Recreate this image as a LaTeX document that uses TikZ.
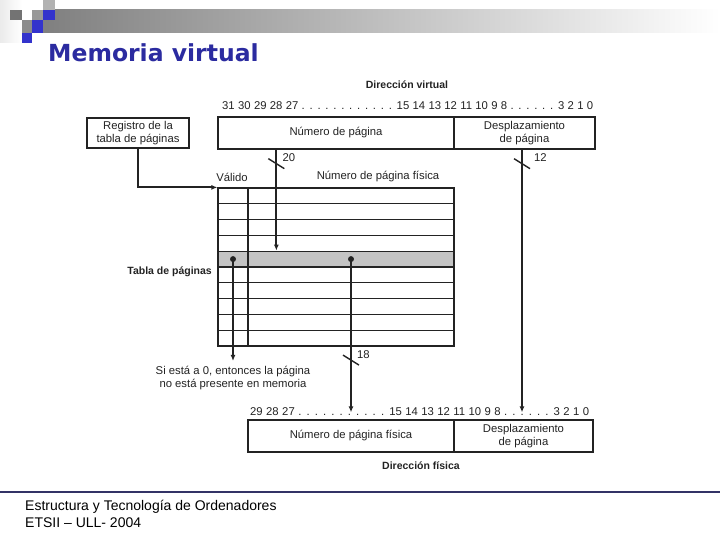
\documentclass[tikz,border=0pt]{standalone}
\usepackage{fontspec}
\setmainfont{Liberation Sans}
\newfontfamily\titlefont{DejaVu Sans}
\usetikzlibrary{arrows.meta,calc}
\definecolor{titleblue}{RGB}{43,43,160}
\definecolor{sqblue}{RGB}{51,51,204}
\definecolor{linecol}{RGB}{51,51,102}
\definecolor{shadegray}{RGB}{195,195,195}
\definecolor{ink}{RGB}{35,35,35}
\begin{document}
\begin{tikzpicture}[x=1pt,y=-1pt,
  lbl/.style={font=\fontsize{11.3}{13}\selectfont, text=ink, inner sep=0pt, align=center},
  blbl/.style={font=\fontsize{10.5}{12}\selectfont\bfseries, text=ink, inner sep=0pt},
  box/.style={draw=ink, line width=1.3pt, inner sep=0pt, align=center, font=\fontsize{11.3}{13}\selectfont, text=ink},
  cell/.style={draw=ink, line width=1.2pt, inner sep=0pt, minimum height=15.8pt},
  conn/.style={draw=ink, line width=2pt},
  tip/.style={-{Latex[length=6pt,width=5pt]}},
  tick/.style={draw=ink, line width=1.4pt},
  dot/.style={circle, fill=ink, inner sep=0pt, minimum size=6pt}
]
\useasboundingbox (0,0) rectangle (720,540);
\fill[white] (0,0) rectangle (720,540);

% header decoration
\shade[left color=black!8, right color=white] (0,0) rectangle (22,43);
\shade[left color=black!50, right color=white] (43,10) rectangle (720,33);
\fill[black!30] (43,0) rectangle (55,10);
\fill[black!55] (10,10) rectangle (22,20);
\fill[black!40] (32,10) rectangle (43,20);
\fill[sqblue] (43,10) rectangle (55,20);
\fill[black!45] (22,20) rectangle (32,33);
\fill[sqblue] (32,20) rectangle (43,33);
\fill[sqblue] (22,33) rectangle (32,43);

\node[anchor=base west, inner sep=0pt, text=titleblue, font=\titlefont\bfseries\fontsize{23.5}{26}\selectfont] (title) at (48,62) {Memoria virtual};

% virtual address
\node[blbl] (dv) at (407,85) {Dirección virtual};
\node[lbl, anchor=west] (bitsv) at (222,106) {\makebox[371pt][s]{31 30 29 28 27 . . . . . . . . . . . . 15 14 13 12 11 10 9 8 . . . . . . 3 2 1 0}};
\node[box, minimum width=236pt, minimum height=32pt] (vpn) at (336,133) {Número de página};
\node[box, minimum width=141pt, minimum height=32pt] (voff) at (524.5,133) {Desplazamiento\\de página};

\node[box, minimum width=102pt, minimum height=30pt] (reg) at (138,133) {Registro de la\\tabla de páginas};

% page table
\fill[shadegray] (218,251.2) rectangle (454,267);
\foreach \i in {1,...,10} {
  \pgfmathsetmacro\yy{188+(\i-0.5)*15.8}
  \node[cell, minimum width=30pt] (v\i) at (233,\yy) {};
  \node[cell, minimum width=206pt] (p\i) at (351,\yy) {};
}
\node[lbl] (valido) at (232,177) {Válido};
\node[lbl] (npf) at (378,177) {Número de página física};
\node[blbl, anchor=east] (tabla) at (212,272) {Tabla de páginas};

% physical address
\node[lbl, anchor=west] (bitsp) at (250,412) {\makebox[339pt][s]{29 28 27 . . . . . . . . . . . 15 14 13 12 11 10 9 8 . . . . . . 3 2 1 0}};
\node[box, minimum width=206pt, minimum height=32pt] (ppn) at (351,436) {Número de página física};
\node[box, minimum width=139pt, minimum height=32pt] (poff) at (523.5,436) {Desplazamiento\\de página};
\node[blbl] (df) at (421,466) {Dirección física};

\node[lbl] (note) at (233,378) {Si está a 0, entonces la página\\no está presente en memoria};

% connectors
\draw[conn,tip] (reg.south) |- (v1.north west);

\coordinate (s20) at ([xshift=59pt]vpn.south west);
\draw[conn,tip] (s20) -- (s20 |- p5.north);
\draw[tick] ($(s20)+(-8,9)$) -- ($(s20)+(8,19)$);
\node[lbl, anchor=west] (l20) at ($(s20)+(6,8)$) {20};

\coordinate (s12) at ([xshift=-2.5pt]voff.south);
\draw[conn,tip] (s12) -- ([yshift=7pt]s12 |- poff.north);
\draw[tick] ($(s12)+(-8,9)$) -- ($(s12)+(8,19)$);
\node[lbl, anchor=west] (l12) at ($(s12)+(12,8)$) {12};

\node[dot] (d1) at (v5.center) {};
\node[dot] (d2) at (p5.center) {};

\draw[conn,tip] (d1) -- ([yshift=5pt]d1 |- note.north);

\draw[conn,tip] (d2) -- ([yshift=7pt]d2 |- ppn.north);
\path (d2) ++(0,101) coordinate (t18);
\draw[tick] ($(t18)+(-8,-5)$) -- ($(t18)+(8,5)$);
\node[lbl, anchor=west] (l18) at ($(t18)+(6,-5)$) {18};

% footer
\draw[linecol, line width=1.2pt] (0,492) -- (720,492);
\node[anchor=base west, inner sep=0pt, font=\fontsize{14}{16}\selectfont] (f1) at (25,510) {Estructura y Tecnología de Ordenadores};
\node[anchor=base west, inner sep=0pt, font=\fontsize{14}{16}\selectfont] (f2) at (25,527) {ETSII – ULL- 2004};
\end{tikzpicture}
\end{document}
